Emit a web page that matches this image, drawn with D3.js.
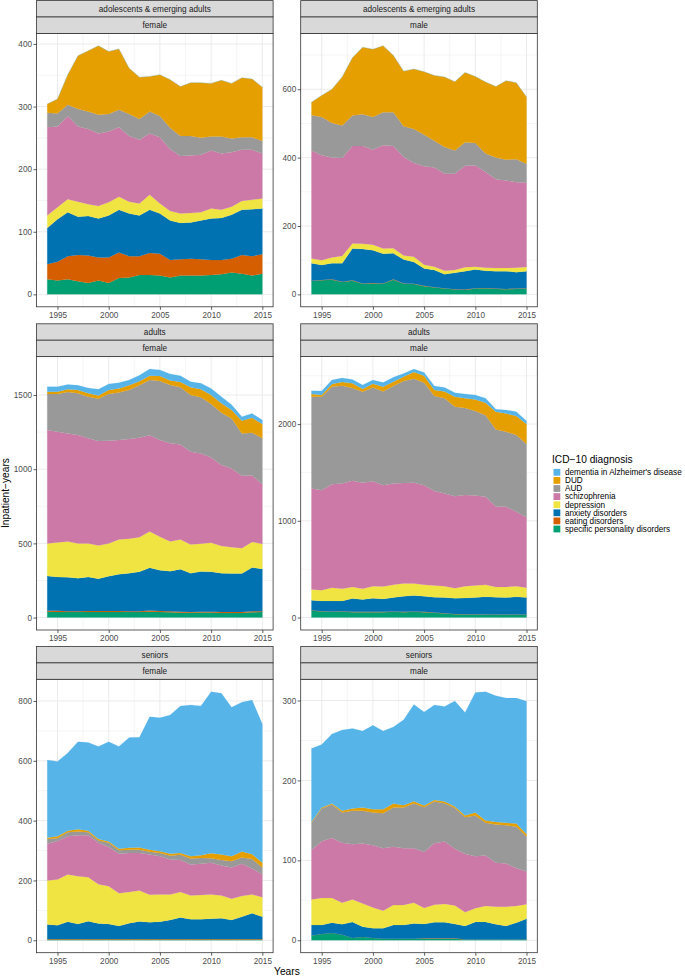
<!DOCTYPE html>
<html>
<head>
<meta charset="utf-8">
<script src="https://cdn.jsdelivr.net/npm/d3@7"></script>
<style>
  body { margin: 0; background: #ffffff; }
  svg { display: block; }
  text { font-family: "Liberation Sans", Arial, Helvetica, sans-serif; }
</style>
</head>
<body>
<svg id="chart" width="685" height="977"></svg>
<script>
// ---------------- DATA ----------------
const years = [1994,1995,1996,1997,1998,1999,2000,2001,2002,2003,2004,2005,2006,2007,2008,2009,2010,2011,2012,2013,2014,2015];
const xTicks = [1995, 2000, 2005, 2010, 2015];

// stacking order: bottom -> top
const diagnosisKeys = ["personality","eating","anxiety","depression","schizophrenia","AUD","DUD","dementia"];
const diagnosisLabels = {
  dementia: "dementia in Alzheimer's disease",
  DUD: "DUD",
  AUD: "AUD",
  schizophrenia: "schizophrenia",
  depression: "depression",
  anxiety: "anxiety disorders",
  eating: "eating disorders",
  personality: "specific personality disorders"
};
const diagnosisColors = {
  dementia: "#56B4E9", DUD: "#E69F00", AUD: "#999999", schizophrenia: "#CC79A7",
  depression: "#F0E442", anxiety: "#0072B2", eating: "#D55E00", personality: "#009E73"
};
const legendOrder = ["dementia","DUD","AUD","schizophrenia","depression","anxiety","eating","personality"];

const adolescentsFemale = {
  personality:   [24,22,24,21,18,22,18,26,27,31,31,30,27,30,30,30,31,32,35,33,30,33],
  eating:        [24,30,37,42,44,37,41,41,34,30,35,35,28,26,27,26,24,23,22,30,31,31],
  anxiety:       [58,68,70,61,63,62,67,68,68,65,69,64,63,58,58,62,66,67,70,72,75,73],
  depression:    [20,19,21,24,19,20,21,21,19,19,24,16,15,15,15,13,16,13,13,14,15,16],
  schizophrenia: [141,129,133,120,120,116,113,111,105,102,98,106,99,92,92,92,93,90,87,82,80,72],
  AUD:           [23,21,18,28,28,30,28,28,35,33,35,34,34,32,31,27,22,27,22,20,20,20],
  DUD:           [14,23,48,85,97,110,100,97,73,67,56,66,77,79,85,88,85,90,88,95,93,86],
  dementia:      [0,0,0,0,0,0,0,0,0,0,0,0,0,0,0,0,0,0,0,0,0,0]
};
const adolescentsMale = {
  personality:   [39,41,43,36,40,31,32,31,43,31,30,24,20,17,14,13,17,18,16,15,16,17],
  eating:        [1,1,1,1,1,1,1,1,1,1,1,1,1,1,1,1,1,1,1,1,1,1],
  anxiety:       [51,44,47,54,93,101,96,87,76,70,64,51,50,41,48,54,55,50,51,52,48,50],
  depression:    [14,14,17,21,15,15,16,15,15,12,15,11,10,10,8,11,8,9,9,9,13,12],
  schizophrenia: [316,307,292,287,285,286,278,302,299,288,274,288,290,284,282,297,296,280,260,256,250,247],
  AUD:           [103,112,101,95,89,93,96,97,99,90,100,92,78,78,68,69,66,54,63,61,67,55],
  DUD:           [38,63,99,142,169,196,198,194,166,161,175,184,191,205,201,204,194,209,208,231,224,195],
  dementia:      [0,0,0,0,0,0,0,0,0,0,0,0,0,0,0,0,0,0,0,0,0,0]
};
const adultsFemale = {
  personality:   [40,38,37,37,38,38,38,38,37,37,40,38,36,33,32,34,34,31,30,30,36,37],
  eating:        [6,8,6,6,6,6,6,6,6,6,7,6,6,6,6,6,6,7,7,7,6,6],
  anxiety:       [235,228,229,222,230,217,235,248,256,265,288,275,271,287,261,270,268,261,260,260,295,285],
  depression:    [218,232,241,234,225,225,220,234,232,234,245,225,200,200,193,187,196,184,177,171,173,167],
  schizophrenia: [765,747,728,731,709,704,693,670,672,670,648,652,661,641,626,609,575,545,531,488,448,402],
  AUD:           [243,254,279,281,281,285,315,320,330,353,373,398,393,385,382,378,360,353,337,285,288,311],
  DUD:           [15,15,18,22,22,22,27,28,32,27,29,34,30,36,52,54,61,63,57,86,100,96],
  dementia:      [34,34,32,32,36,41,40,39,36,41,45,41,45,42,38,41,43,45,36,27,30,27]
};
const adultsMale = {
  personality:   [73,63,59,63,56,56,56,56,59,56,59,56,49,42,35,31,31,28,28,28,28,28],
  eating:        [3,3,3,3,3,3,3,3,3,3,3,3,3,3,3,3,3,3,3,3,3,3],
  anxiety:       [103,106,110,106,138,127,141,134,145,162,166,162,158,162,162,169,173,183,179,176,183,176],
  depression:    [111,111,135,125,120,111,124,128,131,131,124,117,121,117,103,121,124,124,107,110,110,100],
  schizophrenia: [1044,1034,1072,1089,1097,1096,1086,1048,1048,1038,1041,1031,976,959,952,942,931,910,831,828,769,727],
  AUD:           [949,966,1007,1011,958,941,969,969,1007,1055,1076,1059,983,983,924,900,872,842,797,776,793,759],
  DUD:           [27,17,28,37,49,28,38,48,45,45,69,72,62,72,104,100,121,131,183,189,197,207],
  dementia:      [35,41,41,42,41,41,38,45,45,34,31,34,41,41,41,44,45,45,24,35,45,31]
};
const seniorsFemale = {
  personality:   [3,3,3,3,3,3,3,3,3,3,3,3,3,3,3,3,3,3,3,3,3,3],
  eating:        [1,1,1,1,1,1,1,1,1,1,1,1,1,1,1,1,1,1,1,1,1,1],
  anxiety:       [49,46,58,50,60,52,50,44,53,59,56,58,64,72,66,66,68,70,64,75,86,75],
  depression:    [147,153,158,160,147,131,127,109,104,103,92,91,85,85,80,81,81,76,71,69,63,65],
  schizophrenia: [123,129,128,137,140,139,131,132,131,126,135,128,117,107,103,105,106,100,104,108,87,76],
  AUD:           [16,9,13,13,10,8,14,12,11,11,9,11,13,18,20,19,15,18,21,21,32,23],
  DUD:           [4,7,5,7,5,5,4,5,6,7,7,6,6,6,8,9,17,19,17,20,16,16],
  dementia:      [260,250,260,293,295,309,334,342,369,369,444,446,464,491,506,499,540,539,498,499,515,464]
};
const seniorsMale = {
  personality:   [6,8,9,7,3,4,3,2,2,2,2,2,2,2,2,1,1,1,1,1,1,1],
  eating:        [0,0,0,0,0,0,0,0,0,0,0,0.5,0.5,0.5,0.5,0,0,0,0,0,0,0],
  anxiety:       [13,11,13,13,20,13,12,13,17,17,19,18,20,20,18,17,22,22,19,17,21,26],
  depression:    [32,34,31,27,28,29,26,22,25,25,26,20,22,23,23,17,17,20,22,24,21,18],
  schizophrenia: [62,71,75,75,69,75,78,78,73,71,68,70,77,78,71,73,65,63,55,54,47,41],
  AUD:           [34,41,42,38,42,41,41,44,49,51,56,56,52,48,51,46,51,41,48,48,52,44],
  DUD:           [1,1,1,2,3,4,4,5,5,3,3,2,2,2,2,2,4,3,3,3,4,3],
  dementia:      [92,79,87,101,100,96,105,98,96,107,121,117,119,119,132,129,150,161,158,156,157,166]
};

// y tick labels per panel
const adolescentsFemaleTicks = [0,100,200,300,400];
const adolescentsMaleTicks   = [0,200,400,600];
const adultsFemaleTicks      = [0,500,1000,1500];
const adultsMaleTicks        = [0,1000,2000];
const seniorsFemaleTicks     = [0,200,400,600,800];
const seniorsMaleTicks       = [0,100,200,300];

const panels = [
  { group: "adolescents & emerging adults", sex: "female", data: adolescentsFemale, ticks: adolescentsFemaleTicks, col: 0, row: 0 },
  { group: "adolescents & emerging adults", sex: "male",   data: adolescentsMale,   ticks: adolescentsMaleTicks,   col: 1, row: 0 },
  { group: "adults",  sex: "female", data: adultsFemale,  ticks: adultsFemaleTicks,  col: 0, row: 1 },
  { group: "adults",  sex: "male",   data: adultsMale,    ticks: adultsMaleTicks,    col: 1, row: 1 },
  { group: "seniors", sex: "female", data: seniorsFemale, ticks: seniorsFemaleTicks, col: 0, row: 2 },
  { group: "seniors", sex: "male",   data: seniorsMale,   ticks: seniorsMaleTicks,   col: 1, row: 2 }
];

// ---------------- LAYOUT ----------------
const colX = [36.5, 300.7];
const rowY = [33.4, 356.6, 679.3];
const plotW = 236.6, plotH = 273.4, stripH = 16.4;
const gridCol = "#ebebeb", borderCol = "#333333";
const tickFont = 8.2, stripFont = 8.2;

const svg = d3.select("#chart");
svg.append("rect").attr("width", 685).attr("height", 977).attr("fill", "#ffffff");

const x = d3.scaleLinear()
  .domain([years[0] - 0.05 * (years[years.length-1] - years[0]), years[years.length-1] + 0.05 * (years[years.length-1] - years[0])])
  .range([0, plotW]);

function minorBreaks(major, domain) {
  const step = major[1] - major[0];
  const out = [];
  for (let v = major[0] - step / 2; v <= major[major.length-1] + step / 2 + 1e-9; v += step) {
    if (v >= domain[0] && v <= domain[1]) out.push(v);
  }
  return out;
}

panels.forEach(p => {
  const g = svg.append("g").attr("transform", `translate(${colX[p.col]},${rowY[p.row]})`);
  const rows = years.map((yr, i) => {
    const o = { year: yr };
    diagnosisKeys.forEach(k => { o[k] = p.data[k][i]; });
    return o;
  });
  const series = d3.stack().keys(diagnosisKeys)(rows);
  const maxV = d3.max(series[series.length-1], d => d[1]);
  const y = d3.scaleLinear().domain([-0.05 * maxV, 1.05 * maxV]).range([plotH, 0]);

  // background
  g.append("rect").attr("width", plotW).attr("height", plotH).attr("fill", "#ffffff");

  // minor grid
  const xMinor = minorBreaks(xTicks, x.domain());
  const yMinor = minorBreaks(p.ticks, y.domain());
  g.selectAll(".xminor").data(xMinor).enter().append("line")
    .attr("x1", d => x(d)).attr("x2", d => x(d)).attr("y1", 0).attr("y2", plotH)
    .attr("stroke", gridCol).attr("stroke-width", 0.5);
  g.selectAll(".yminor").data(yMinor).enter().append("line")
    .attr("y1", d => y(d)).attr("y2", d => y(d)).attr("x1", 0).attr("x2", plotW)
    .attr("stroke", gridCol).attr("stroke-width", 0.5);
  // major grid
  g.selectAll(".xmajor").data(xTicks).enter().append("line")
    .attr("x1", d => x(d)).attr("x2", d => x(d)).attr("y1", 0).attr("y2", plotH)
    .attr("stroke", gridCol).attr("stroke-width", 1);
  g.selectAll(".ymajor").data(p.ticks).enter().append("line")
    .attr("y1", d => y(d)).attr("y2", d => y(d)).attr("x1", 0).attr("x2", plotW)
    .attr("stroke", gridCol).attr("stroke-width", 1);

  // areas
  const area = d3.area()
    .x(d => x(d.data.year))
    .y0(d => y(d[0]))
    .y1(d => y(d[1]));
  g.selectAll(".layer").data(series).enter().append("path")
    .attr("d", area)
    .attr("fill", d => diagnosisColors[d.key])
    .attr("stroke", d => diagnosisColors[d.key])
    .attr("stroke-width", 0.15);

  // border
  g.append("rect").attr("width", plotW).attr("height", plotH)
    .attr("fill", "none").attr("stroke", borderCol).attr("stroke-width", 0.8);

  // y axis
  const ay = g.append("g").call(d3.axisLeft(y).tickValues(p.ticks).tickSize(3).tickPadding(1.5).tickFormat(d3.format("d")));
  ay.select(".domain").remove();
  ay.selectAll(".tick line").attr("stroke", borderCol).attr("stroke-width", 0.8);
  ay.selectAll(".tick text").attr("fill", "#4d4d4d").style("font-size", tickFont + "px")
    .style("font-family", '"Liberation Sans", Arial, sans-serif');

  // x axis
  const ax = g.append("g").attr("transform", `translate(0,${plotH})`)
    .call(d3.axisBottom(x).tickValues(xTicks).tickSize(3).tickPadding(2).tickFormat(d3.format("d")));
  ax.select(".domain").remove();
  ax.selectAll(".tick line").attr("stroke", borderCol).attr("stroke-width", 0.8);
  ax.selectAll(".tick text").attr("fill", "#4d4d4d").style("font-size", tickFont + "px")
    .style("font-family", '"Liberation Sans", Arial, sans-serif');

  // strips
  [p.group, p.sex].forEach((label, i) => {
    const sy = -stripH * (2 - i);
    g.append("rect").attr("x", 0).attr("y", sy).attr("width", plotW).attr("height", stripH)
      .attr("fill", "#d9d9d9").attr("stroke", borderCol).attr("stroke-width", 0.8);
    g.append("text").attr("x", plotW / 2).attr("y", sy + stripH / 2).attr("dy", "0.35em")
      .attr("text-anchor", "middle").attr("fill", "#1a1a1a").style("font-size", stripFont + "px")
      .text(label);
  });
});

// axis titles
svg.append("text").attr("x", (colX[0] + colX[1] + plotW) / 2).attr("y", 975)
  .attr("text-anchor", "middle").attr("fill", "#000").style("font-size", "10.2px").text("Years");
svg.append("text").attr("transform", `translate(9,${(rowY[0] + rowY[2] + plotH) / 2}) rotate(-90)`)
  .attr("text-anchor", "middle").attr("fill", "#000").style("font-size", "10.2px").text("Inpatient\u2212years");

// legend
const lg = svg.append("g").attr("transform", "translate(552,463)");
lg.append("text").attr("x", 0).attr("y", 0).attr("fill", "#000").style("font-size", "10.2px").text("ICD\u221210 diagnosis");
legendOrder.forEach((k, i) => {
  const cy = 9.3 + i * 8.1;
  lg.append("rect").attr("x", 1.5).attr("y", cy - 3.4).attr("width", 6.8).attr("height", 6.8)
    .attr("fill", diagnosisColors[k]);
  lg.append("text").attr("x", 13).attr("y", cy).attr("dy", "0.35em").attr("fill", "#000")
    .style("font-size", "8.2px").text(diagnosisLabels[k]);
});
</script>
</body>
</html>
